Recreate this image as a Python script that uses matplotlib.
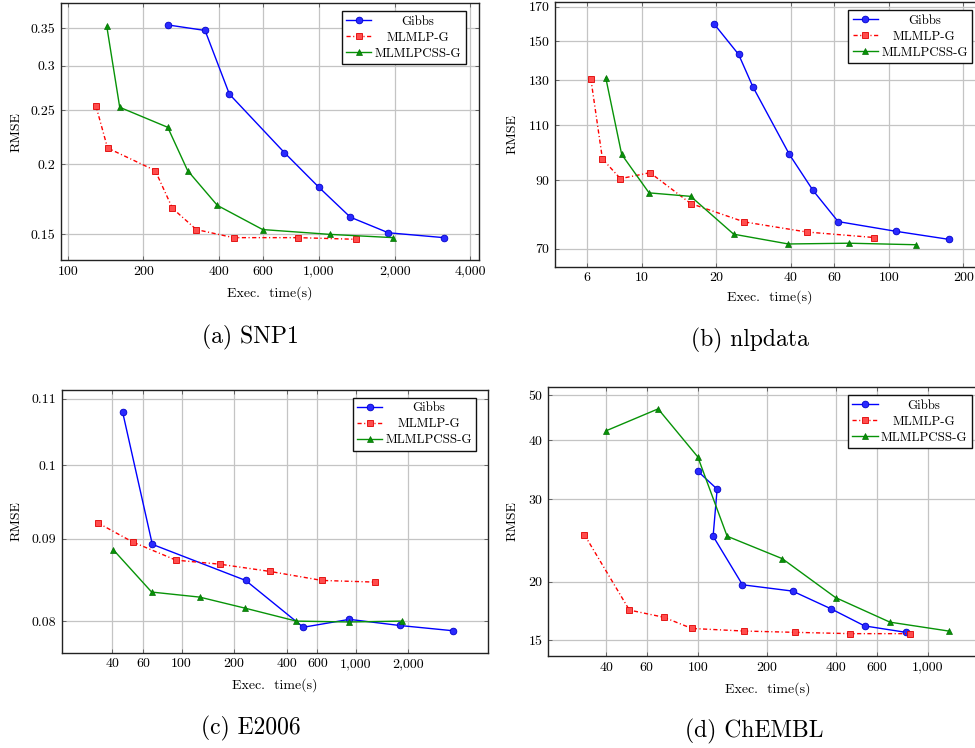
import matplotlib
matplotlib.use('Agg')
import matplotlib.pyplot as plt
from matplotlib.ticker import FixedLocator, FixedFormatter, NullLocator

plt.rcParams['font.family'] = ['cmr10', 'DejaVu Serif']
plt.rcParams['axes.formatter.use_mathtext'] = True
plt.rcParams['mathtext.fontset'] = 'cm'

series_names = ['Gibbs', 'MLMLP-G', 'MLMLPCSS-G']

# (a) SNP1
snp_gibbs_t = [250, 352, 440, 728, 1000, 1333, 1888, 3143]
snp_gibbs_r = [0.355, 0.347, 0.267, 0.210, 0.182, 0.161, 0.151, 0.148]
snp_mlp_t = [129.6, 144, 223, 261, 325, 457, 823, 1408]
snp_mlp_r = [0.254, 0.214, 0.195, 0.167, 0.153, 0.148, 0.148, 0.147]
snp_css_t = [143, 161, 250, 300, 394, 597, 1106, 1977]
snp_css_r = [0.353, 0.253, 0.233, 0.195, 0.169, 0.153, 0.150, 0.148]

# (b) nlpdata
nlp_gibbs_t = [19.6, 24.6, 28.1, 39.5, 49.2, 62.2, 106.4, 175.5]
nlp_gibbs_r = [159.6, 142.8, 126.8, 98.9, 86.7, 77.3, 74.6, 72.4]
nlp_mlp_t = [6.2, 6.91, 8.17, 10.77, 15.74, 25.96, 46.4, 87.2]
nlp_mlp_r = [130.7, 97.3, 90.5, 92.5, 82.6, 77.2, 74.4, 72.9]
nlp_css_t = [7.13, 8.27, 10.67, 15.74, 23.5, 39.1, 68.9, 128.6]
nlp_css_r = [131.0, 98.9, 85.9, 84.8, 73.8, 71.2, 71.4, 71.0]

# (c) E2006
e06_gibbs_t = [45.9, 67.9, 232.9, 498.8, 916, 1780, 3617]
e06_gibbs_r = [0.1079, 0.0893, 0.0848, 0.0793, 0.0802, 0.0795, 0.0789]
e06_mlp_t = [33.0, 52.4, 92.8, 165.2, 321.2, 638, 1279]
e06_mlp_r = [0.0921, 0.0896, 0.0873, 0.0868, 0.0859, 0.0848, 0.0846]
e06_css_t = [40.6, 67.3, 126.8, 230.9, 454.8, 916, 1844]
e06_css_r = [0.0886, 0.0834, 0.0828, 0.0815, 0.0800, 0.0799, 0.0800]

# (d) ChEMBL
chm_gibbs_t = [100, 121.4, 116.6, 156.5, 258.4, 380.7, 531.8, 805]
chm_gibbs_r = [34.4, 31.5, 25.0, 19.7, 19.1, 17.5, 16.1, 15.6]
chm_mlp_t = [32.1, 50.4, 71.1, 94.2, 158.6, 265.3, 460.6, 837.6]
chm_mlp_r = [25.2, 17.4, 16.8, 15.9, 15.7, 15.6, 15.5, 15.5]
chm_css_t = [40, 67.2, 100, 134.2, 232.9, 397.7, 685.5, 1234]
chm_css_r = [41.96, 46.7, 36.9, 25.0, 22.4, 18.5, 16.4, 15.7]

# ticks
a_xticks = [100, 200, 400, 600, 1000, 2000, 4000]
a_xlabels = ['100', '200', '400', '600', '1,000', '2,000', '4,000']
a_yticks = [0.15, 0.2, 0.25, 0.3, 0.35]
a_ylabels = ['0.15', '0.2', '0.25', '0.3', '0.35']
b_xticks = [6, 10, 20, 40, 60, 100, 200]
b_xlabels = ['6', '10', '20', '40', '60', '100', '200']
b_yticks = [70, 90, 110, 130, 150, 170]
b_ylabels = ['70', '90', '110', '130', '150', '170']
c_xticks = [40, 60, 100, 200, 400, 600, 1000, 2000]
c_xlabels = ['40', '60', '100', '200', '400', '600', '1,000', '2,000']
c_yticks = [0.08, 0.09, 0.1, 0.11]
c_ylabels = ['0.08', '0.09', '0.1', '0.11']
d_xticks = [40, 60, 100, 200, 400, 600, 1000]
d_xlabels = ['40', '60', '100', '200', '400', '600', '1,000']
d_yticks = [15, 20, 30, 40, 50]
d_ylabels = ['15', '20', '30', '40', '50']

captions = ['(a) SNP1', '(b) nlpdata', '(c) E2006', '(d) ChEMBL']

W, H = 975, 748
fig = plt.figure(figsize=(W / 100, H / 100), dpi=100)


def px_axes(L, R, T, B):
    return fig.add_axes([L / W, 1 - B / H, (R - L) / W, (B - T) / H])


BLUE = '#0000ff'
RED = '#ff0000'
GREEN = '#079307'


def draw(ax, data, xlim, ylim, xt, xl, yt, yl, anchor):
    (gt, gr), (mt, mr), (ct, cr) = data
    ax.plot(gt, gr, color=BLUE, lw=1.0, marker='o', ms=4.8,
            mfc='#2a2aff', mec='#0000cc', mew=0.6, label=series_names[0], zorder=3)
    ax.plot(mt, mr, color=RED, lw=1.0, ls=(0, (3, 1.8, 0.8, 1.8)), marker='s', ms=4.4,
            mfc='#ff4d4d', mec='#e00000', mew=0.6, label=series_names[1], zorder=3)
    ax.plot(ct, cr, color=GREEN, lw=1.0, marker='^', ms=5.0,
            mfc=GREEN, mec='#057005', mew=0.5, label=series_names[2], zorder=3)
    ax.set_xscale('log')
    ax.set_yscale('log')
    ax.set_xlim(*xlim)
    ax.set_ylim(*ylim)
    ax.xaxis.set_major_locator(FixedLocator(xt))
    ax.xaxis.set_major_formatter(FixedFormatter(xl))
    ax.yaxis.set_major_locator(FixedLocator(yt))
    ax.yaxis.set_major_formatter(FixedFormatter(yl))
    ax.xaxis.set_minor_locator(NullLocator())
    ax.yaxis.set_minor_locator(NullLocator())
    ax.grid(True, which='major', color='#c4c4c4', lw=0.9)
    ax.set_axisbelow(True)
    ax.tick_params(which='major', direction='in', length=3, width=0.6, color='#555555',
                   labelsize=10, pad=4, top=True, right=True, labeltop=False, labelright=False)
    for s in ax.spines.values():
        s.set_linewidth(1.0)
        s.set_color('#222222')
    leg = ax.legend(loc='upper right', bbox_to_anchor=anchor, borderaxespad=0,
                    frameon=True, fancybox=False, edgecolor='#111111', framealpha=1,
                    fontsize=9.3, handlelength=1.95, handletextpad=0.25, borderpad=0.35,
                    labelspacing=0.3)
    leg.get_frame().set_linewidth(1.0)
    return leg


axa = px_axes(61, 479, 3.3, 260)
axb = px_axes(555, 985, 1.7, 266.7)
axc = px_axes(62, 488, 390, 652.7)
axd = px_axes(548, 985, 386.7, 656)

legs = []
legs.append(draw(axa, [(snp_gibbs_t, snp_gibbs_r), (snp_mlp_t, snp_mlp_r), (snp_css_t, snp_css_r)],
                 (94, 4335), (0.135, 0.388), a_xticks, a_xlabels, a_yticks, a_ylabels, (0.968, 0.969)))
legs.append(draw(axb, [(nlp_gibbs_t, nlp_gibbs_r), (nlp_mlp_t, nlp_mlp_r), (nlp_css_t, nlp_css_r)],
                 (4.44, 244.7), (65.5, 173.3), b_xticks, b_xlabels, b_yticks, b_ylabels, (0.970, 0.969)))
legs.append(draw(axc, [(e06_gibbs_t, e06_gibbs_r), (e06_mlp_t, e06_mlp_r), (e06_css_t, e06_css_r)],
                 (20.6, 5717), (0.07646, 0.1114), c_xticks, c_xlabels, c_yticks, c_ylabels, (0.973, 0.971)))
legs.append(draw(axd, [(chm_gibbs_t, chm_gibbs_r), (chm_mlp_t, chm_mlp_r), (chm_css_t, chm_css_r)],
                 (22.3, 1777), (13.89, 52.07), d_xticks, d_xlabels, d_yticks, d_ylabels, (0.970, 0.969)))


def ftext(x, y, s, **kw):
    fig.text(x / W, 1 - y / H, s, ha='center', va='center', **kw)


# axis labels
for (rx, ry), (ex, ey) in [((17, 132), (270, 293)), ((513, 134), (770, 297)),
                           ((17, 521), (275, 685)), ((513, 521), (768, 689))]:
    ftext(rx, ry, 'RMSE', rotation=90, fontsize=10)
    ftext(ex, ey, 'Exec.  time(s)', fontsize=10)

# captions
for (cx, cy), cap in zip([(250, 337), (750, 340), (251, 728), (754, 731)], captions):
    ftext(cx, cy, cap, fontsize=17)

# center legend texts (pgfplots style)
fig.canvas.draw()
r = fig.canvas.get_renderer()
inv = fig.transFigure.inverted()
for leg in legs:
    texts = leg.get_texts()
    exts = [t.get_window_extent(r) for t in texts]
    x0 = min(e.x0 for e in exts)
    x1 = max(e.x1 for e in exts)
    cx = (x0 + x1) / 2
    for t, e in zip(texts, exts):
        cy = (e.y0 + e.y1) / 2
        fx, fy = inv.transform((cx, cy))
        fig.text(fx, fy, t.get_text(), ha='center', va='center', fontsize=9.3, zorder=10)
        t.set_visible(False)

fig.savefig('out.png', dpi=100)
